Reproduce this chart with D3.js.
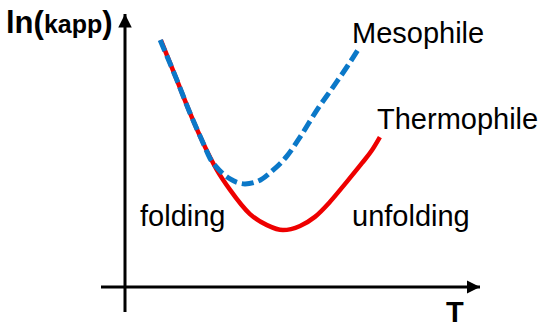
<!DOCTYPE html>
<html>
<head>
<meta charset="utf-8">
<script src="https://cdn.jsdelivr.net/npm/d3@7"></script>
<style>
  html, body { margin: 0; padding: 0; background: #fff; }
  svg { display: block; }
  text { font-family: "Liberation Sans", Arial, Helvetica, sans-serif; fill: #000; }
</style>
</head>
<body>
<svg id="chart" width="550" height="331"></svg>
<script>
// Schematic data (arbitrary units): T from 0..100, ln(kapp) from 0..100
const thermoT   = [10.1, 14.6, 18.3, 22.0, 25.9, 29.6, 35.2, 40.0, 44.5, 49.3, 53.5, 57.7, 62.0, 66.8, 69.6, 71.8];
const thermoLnK = [89.8, 75.3, 63.3, 52.4, 42.5, 35.3, 26.5, 22.5, 20.7, 22.2, 25.5, 30.9, 37.5, 45.1, 49.8, 54.5];
const mesoT     = [9.9, 14.6, 18.3, 22.0, 23.9, 26.8, 29.6, 33.8, 37.5, 41.7, 45.6, 49.3, 54.1, 58.6, 62.5, 65.6];
const mesoLnK   = [89.8, 75.3, 63.3, 52.4, 46.9, 42.2, 39.3, 37.5, 38.5, 42.5, 47.6, 54.5, 64.4, 72.7, 80.0, 86.2];
const seriesNames = ["Mesophile", "Thermophile"];
const regionLabels = ["folding", "unfolding"];
const axisLabels = { x: "T", y: ["ln(", "kapp", ")"] };

const svg = d3.select("#chart");
const x = d3.scaleLinear().domain([0, 100]).range([125, 480]);
const y = d3.scaleLinear().domain([0, 100]).range([287, 12]);

// Arrow marker
const defs = svg.append("defs");
defs.append("marker")
  .attr("id", "arrow")
  .attr("viewBox", "0 0 10 10")
  .attr("refX", 10).attr("refY", 5)
  .attr("markerWidth", 4.5).attr("markerHeight", 4.5)
  .attr("markerUnits", "strokeWidth")
  .attr("orient", "auto")
  .append("path").attr("d", "M0,0 L10,5 L0,10 Z").attr("fill", "#000");

// Axes (lines crossing at origin, with arrows)
svg.append("line")
  .attr("x1", x(0) - 24).attr("y1", y(0))
  .attr("x2", x(100)).attr("y2", y(0))
  .attr("stroke", "#000").attr("stroke-width", 3)
  .attr("marker-end", "url(#arrow)");
svg.append("line")
  .attr("x1", x(0)).attr("y1", y(0) + 25)
  .attr("x2", x(0)).attr("y2", y(100) + 2)
  .attr("stroke", "#000").attr("stroke-width", 3)
  .attr("marker-end", "url(#arrow)");

const line = d3.line()
  .x(d => x(d[0])).y(d => y(d[1]))
  .curve(d3.curveMonotoneX);

const thermo = thermoT.map((t, i) => [t, thermoLnK[i]]);
const meso = mesoT.map((t, i) => [t, mesoLnK[i]]);

svg.append("path")
  .attr("d", line(thermo))
  .attr("fill", "none")
  .attr("stroke", "#EE0000")
  .attr("stroke-width", 4.5);

svg.append("path")
  .attr("d", line(meso))
  .attr("fill", "none")
  .attr("stroke", "#0B78C8")
  .attr("stroke-width", 5)
  .attr("stroke-dasharray", "12,5");

// Labels
svg.append("text").attr("x", 352).attr("y", 43)
  .attr("font-size", 29).text(seriesNames[0]);
svg.append("text").attr("x", 377).attr("y", 129)
  .attr("font-size", 29).text(seriesNames[1]);
svg.append("text").attr("x", 140).attr("y", 226)
  .attr("font-size", 29).text(regionLabels[0]);
svg.append("text").attr("x", 352).attr("y", 226)
  .attr("font-size", 29).text(regionLabels[1]);

svg.append("text").attr("x", 446).attr("y", 322)
  .attr("font-size", 29).attr("font-weight", "bold").text(axisLabels.x);

const yl = svg.append("text").attr("x", 6).attr("y", 33).attr("font-weight", "bold");
yl.append("tspan").attr("font-size", 31).text(axisLabels.y[0]);
yl.append("tspan").attr("font-size", 25).text(axisLabels.y[1]);
yl.append("tspan").attr("font-size", 31).text(axisLabels.y[2]);
</script>
</body>
</html>
